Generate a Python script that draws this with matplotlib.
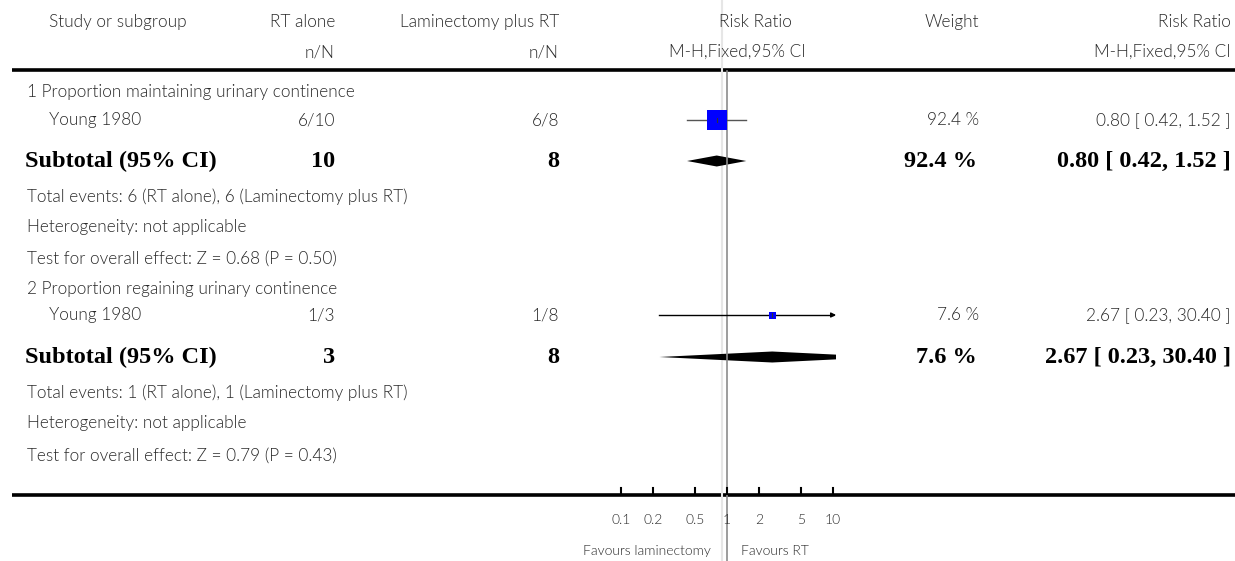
import matplotlib
matplotlib.use("Agg")
import matplotlib.pyplot as plt
from matplotlib.patches import Polygon
import numpy as np

# ---------------- data ----------------
header1 = ["Study or subgroup", "RT alone", "Laminectomy plus RT", "Risk Ratio", "Weight", "Risk Ratio"]
header2 = ["n/N", "n/N", "M-H,Fixed,95% CI", "M-H,Fixed,95% CI"]

group_titles = ["1 Proportion maintaining urinary continence",
                "2 Proportion regaining urinary continence"]
study_names = ["Young 1980", "Young 1980"]
rt_alone = ["6/10", "1/3"]
lam_rt = ["6/8", "1/8"]
study_rr = [0.80, 2.67]
study_lo = [0.42, 0.23]
study_hi = [1.52, 30.40]
study_weight = [92.4, 7.6]
study_ci_text = ["0.80 [ 0.42, 1.52 ]", "2.67 [ 0.23, 30.40 ]"]

sub_n1 = ["10", "3"]
sub_n2 = ["8", "8"]
sub_rr = [0.80, 2.67]
sub_lo = [0.42, 0.23]
sub_hi = [1.52, 30.40]
sub_weight_text = ["92.4 %", "7.6 %"]
sub_ci_text = ["0.80 [ 0.42, 1.52 ]", "2.67 [ 0.23, 30.40 ]"]
total_events = ["Total events: 6 (RT alone), 6 (Laminectomy plus RT)",
                "Total events: 1 (RT alone), 1 (Laminectomy plus RT)"]
heterogeneity = ["Heterogeneity: not applicable", "Heterogeneity: not applicable"]
overall = ["Test for overall effect: Z = 0.68 (P = 0.50)",
           "Test for overall effect: Z = 0.79 (P = 0.43)"]

tick_vals = [0.1, 0.2, 0.5, 1, 2, 5, 10]
tick_labels = ["0.1", "0.2", "0.5", "1", "2", "5", "10"]
favours_left = "Favours laminectomy"
favours_right = "Favours RT"

# ---------------- layout ----------------
W, H = 1235, 561
fig = plt.figure(figsize=(W / 100, H / 100), dpi=100)
bg = fig.add_axes([0, 0, 1, 1])
bg.set_xlim(0, W)
bg.set_ylim(H, 0)
bg.axis("off")

REG = "Lato"
SER = "Liberation Serif"
rfs = 12.4
bfs = 17.5
tcol = "#2a2a2a"
RW = 300

def t(x, y, s, ha="left", bold=False, color=None):
    if bold:
        bg.text(x, y, s, ha=ha, va="center", fontsize=bfs, family=SER,
                fontweight="bold", color=color or "black")
    else:
        bg.text(x, y, s, ha=ha, va="center", fontsize=rfs, family=REG,
                fontweight=RW, color=color or tcol)

# headers
t(49, 22, header1[0])
t(335, 22, header1[1], ha="right")
t(559, 22, header1[2], ha="right")
t(755, 22, header1[3], ha="center")
t(979, 22, header1[4], ha="right")
t(1231, 22, header1[5], ha="right")
t(335, 52, header2[0], ha="right")
t(559, 52, header2[1], ha="right")
t(737, 52, header2[2], ha="center")
t(1231, 52, header2[3], ha="right")

# rules
bg.plot([12, W], [70, 70], color="black", lw=2.6, solid_capstyle="butt")
bg.plot([12, W], [494.5, 494.5], color="black", lw=2.6, solid_capstyle="butt")
bg.plot([722, 722], [0, H], color="#e6e6e6", lw=1.5)

# forest axes: x pixel 621 -> 0.1, 106 px per decade
x0 = 621
ppd = 106.0
xr = 836
fx = fig.add_axes([x0 / W, 0, (xr - x0) / W, 1])
fx.set_xscale("log")
fx.set_xlim(0.1, 0.1 * 10 ** ((xr - x0) / ppd))
fx.set_ylim(H, 0)
fx.axis("off")
fx.patch.set_alpha(0)

fx.plot([1, 1], [71, H], color="#8c8c8c", lw=1.2, clip_on=False)

row_title = [92, 289]
row_study = [120, 315]
row_sub = [161, 357]
row_te = [197, 393]
row_het = [227, 423]
row_oe = [259, 456]
sq_px = [20, 7]

for i in range(2):
    t(27, row_title[i], group_titles[i])
    t(49, row_study[i], study_names[i])
    t(335, row_study[i], rt_alone[i], ha="right")
    t(559, row_study[i], lam_rt[i], ha="right")
    t(979, row_study[i], f"{study_weight[i]:.1f} %", ha="right")
    t(1231, row_study[i], study_ci_text[i], ha="right")

    # CI line
    hi = study_hi[i]
    xmax = 10
    y = row_study[i]
    if hi > xmax:
        fx.plot([study_lo[i], xmax], [y, y], color="black", lw=1.0, clip_on=False)
        fx.annotate("", xy=(xmax * 1.07, y), xytext=(xmax * 0.95, y),
                    arrowprops=dict(arrowstyle="-|>", color="black", lw=1.0,
                                    mutation_scale=7, shrinkA=0, shrinkB=0),
                    annotation_clip=False)
    else:
        fx.plot([study_lo[i], hi], [y, y], color="#555555", lw=1.0, clip_on=False)
    # square
    fx.plot([study_rr[i]], [y], marker="s", ms=sq_px[i] * 0.72,
            color="#0000ff", mec="#0000ff", mew=0, linestyle="none", zorder=3)
    fx.plot([study_rr[i], study_rr[i]], [y - 2, y + 2], color="#333333", lw=0.8, zorder=4)

    # subtotal
    t(25, row_sub[i], "Subtotal (95% CI)", bold=True)
    t(335, row_sub[i], sub_n1[i], ha="right", bold=True)
    t(559, row_sub[i], sub_n2[i], ha="right", bold=True)
    t(977, row_sub[i], sub_weight_text[i], ha="right", bold=True)
    t(1231, row_sub[i], sub_ci_text[i], ha="right", bold=True)
    ys = row_sub[i]
    dia = Polygon([[sub_lo[i], ys], [sub_rr[i], ys - 5.5], [sub_hi[i], ys],
                   [sub_rr[i], ys + 5.5]], closed=True, color="black", lw=0)
    fx.add_patch(dia)

    t(27, row_te[i], total_events[i])
    t(27, row_het[i], heterogeneity[i])
    t(27, row_oe[i], overall[i])

# ticks
for v, lab in zip(tick_vals, tick_labels):
    fx.plot([v, v], [488, 494], color="black", lw=1.5, clip_on=False)
    fx.text(v, 520, lab, ha="center", va="center", fontsize=10, family=REG,
            fontweight=RW, color=tcol)

fx.text(0.70, 551, favours_left, ha="right", va="center", fontsize=10, family=REG,
        fontweight=RW, color=tcol)
fx.text(1.36, 551, favours_right, ha="left", va="center", fontsize=10, family=REG,
        fontweight=RW, color=tcol)

fig.savefig("out.png", dpi=100)
